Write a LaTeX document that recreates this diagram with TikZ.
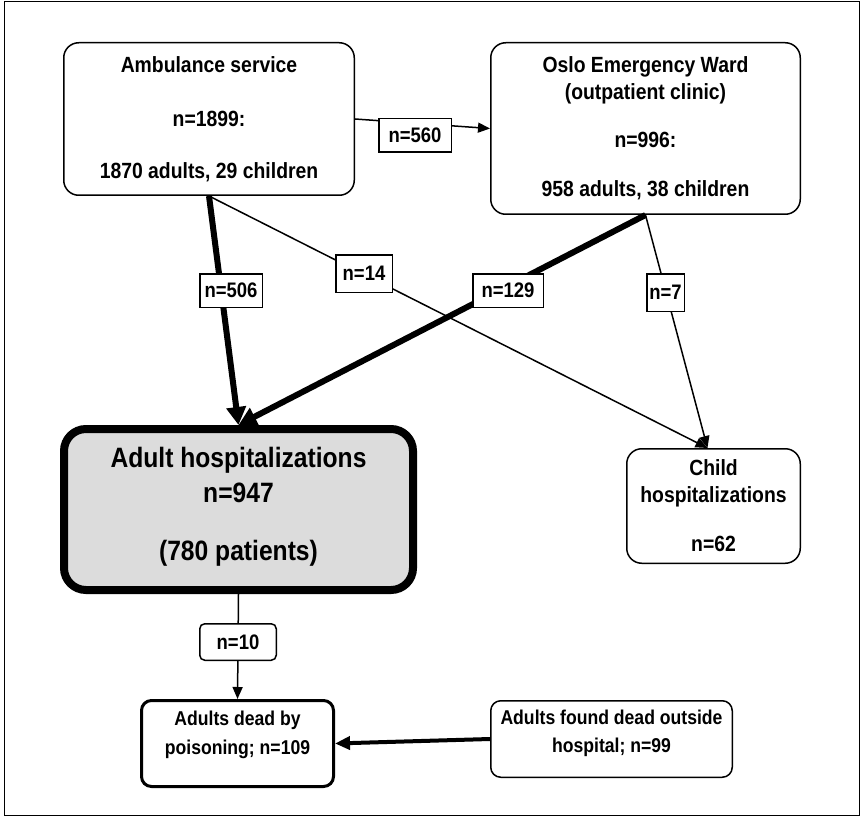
\documentclass[tikz,border=0pt]{standalone}
\usepackage{fontspec}
\setmainfont{Liberation Sans}[FakeStretch=0.88]
\usetikzlibrary{arrows.meta,calc}
\definecolor{boxgray}{RGB}{220,220,220}
\begin{document}
\begin{tikzpicture}[x=1pt,y=-1pt,
  box/.style={draw, line width=1.5pt, rounded corners=15pt, align=center, inner sep=0pt,
    font=\bfseries\fontsize{22}{27}\selectfont},
  smallbox/.style={draw, rounded corners=10pt, align=center, inner sep=0pt,
    font=\bfseries\fontsize{20}{28}\selectfont},
  lab/.style={draw, fill=white, line width=1.5pt, inner sep=0pt,
    font=\bfseries\fontsize{21}{25}\selectfont},
  thinline/.style={line width=1.5pt},
  thinarrow/.style={line width=1.5pt, -{Triangle[length=12pt,width=10pt]}},
  thickarrow/.style={line width=6pt, -{Triangle[length=18pt,width=19pt]}},
  deadarrow/.style={line width=4pt, -{Triangle[length=15pt,width=13pt]}},
]
\useasboundingbox (0,0) rectangle (861,818);
\draw[line width=1.5pt] (4.5,1.5) rectangle (859.5,815.5);

% boxes
\node[box, minimum width=290.5pt, minimum height=152.5pt] (amb) at (209,119)
  {Ambulance service\\[27pt]n=1899:\\[25pt]1870 adults, 29 children};
\node[box, minimum width=309.5pt, minimum height=171.5pt] (oslo) at (645.5,128.5)
  {Oslo Emergency Ward\\(outpatient clinic)\\[21pt]n=996:\\[22pt]958 adults, 38 children};
\node[box, line width=8pt, rounded corners=22pt, fill=boxgray, minimum width=349pt, minimum height=161pt,
  font=\bfseries\fontsize{28}{35}\selectfont] (adult) at (238.5,509.5)
  {Adult hospitalizations\\n=947\\[23pt](780 patients)\rule[-12pt]{0pt}{12pt}};
\node[box, minimum width=173.5pt, minimum height=114.5pt] (child) at (713.5,506)
  {Child\\hospitalizations\\[22pt]n=62};
\node[smallbox, line width=3pt, minimum width=192pt, minimum height=86pt,
  font=\bfseries\fontsize{20}{29}\selectfont] (dead) at (237.5,743.5)
  {Adults dead by\\poisoning; n=109\rule[-22pt]{0pt}{22pt}};
\node[smallbox, line width=1.5pt, minimum width=241.5pt, minimum height=76.5pt] (found) at (611.5,739)
  {Adults found dead outside\\hospital; n=99\rule[-16pt]{0pt}{16pt}};

\coordinate (childin) at ([xshift=-6pt]child.north);

% connectors
\draw[thinarrow] (amb.east) -- (oslo.west);
\draw[thickarrow] (amb.south) -- (adult.north);
\draw[thickarrow] (oslo.south) -- (adult.north);
\draw[thinarrow] (amb.south) -- (childin);
\draw[thinarrow] (oslo.south) -- (childin);
\draw[thinarrow] (adult.south) -- (dead.north);
\draw[deadarrow] (found.west) -- (dead.east);

% labels
\node[lab, minimum width=72.5pt, minimum height=33.5pt] (l560) at (415,135.5) {n=560};
\node[lab, minimum width=62.5pt, minimum height=33.5pt] (l506) at (231,290.5) {n=506};
\node[lab, minimum width=56.5pt, minimum height=37.5pt] (l14) at (364,273.5) {n=14};
\node[lab, minimum width=70.5pt, minimum height=33.5pt] (l129) at (508,290.5) {n=129};
\node[lab, minimum width=37.5pt, minimum height=37.5pt] (l7) at (665.5,292.5) {n=7};
\node[lab, rounded corners=5pt, minimum width=76.5pt, minimum height=36.5pt] (l10) at (238,642) {n=10};
\end{tikzpicture}
\end{document}
